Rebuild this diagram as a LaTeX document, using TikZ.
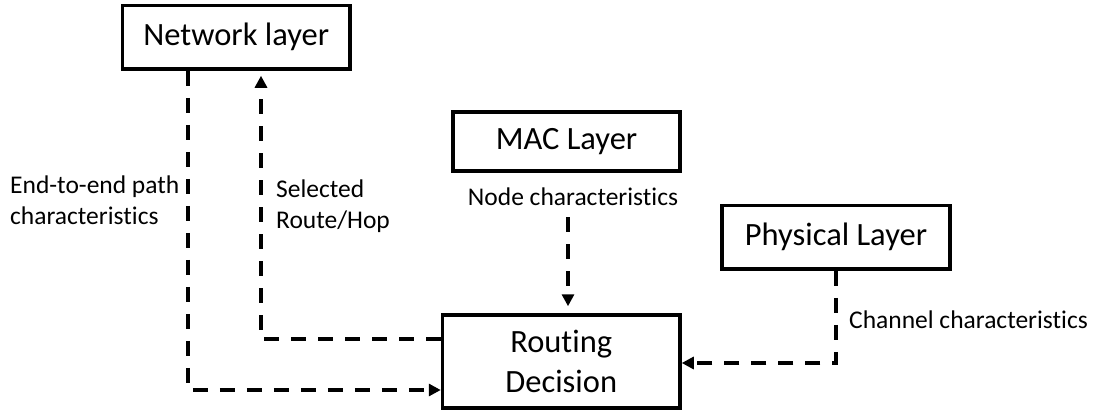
\documentclass[tikz,border=0pt]{standalone}
\usepackage{fontspec}
\setmainfont{Carlito}[Ligatures=NoCommon]
\usetikzlibrary{arrows.meta,calc}
\begin{document}
\begin{tikzpicture}[x=1pt,y=-1pt,
  layerbox/.style={draw,line width=3.5pt,inner sep=0pt,align=center,
    font=\fontsize{32.5}{40}\selectfont},
  flow/.style={line width=4pt,dash pattern=on 15pt off 12pt},
  tip/.style={-{Triangle[length=12pt,width=12pt]}},
  lbl/.style={inner sep=0pt,font=\fontsize{25.5}{31}\selectfont}]
\useasboundingbox (0,0) rectangle (1099,412);

% layer boxes
\node[layerbox,minimum width=227.5pt,minimum height=63.5pt] (net) at (236.25,37.25) {Network layer};
\node[layerbox,minimum width=227pt,minimum height=59pt] (mac) at (566.5,141.5) {MAC Layer};
\node[layerbox,minimum width=228pt,minimum height=63.5pt] (phy) at (836,237.25) {Physical Layer};
\node[layerbox,minimum width=237.5pt,minimum height=93pt] (rt) at (561.25,361.5) {Routing\\Decision};

% bend points of the connectors
\coordinate (c1) at (188,390);
\coordinate (c2) at (261,339);
\coordinate (c3) at (568,217);
\coordinate (c4) at (836,363);

% connectors
\draw[flow,tip] (net.south -| c1) -- (c1) -- (rt.west |- c1);
\draw[flow,tip,shorten >=5pt] (rt.west |- c2) -- (c2) -- (net.south -| c2);
\draw[flow,tip,shorten >=7pt] (c3) -- (rt.north -| c3);
\draw[flow,tip] (phy.south) -- (c4) -- (rt.east |- c4);

% labels
\node[lbl,anchor=west,align=left] (l1) at (10,200) {End-to-end path\\characteristics};
\node[lbl,anchor=west,align=left] (l2) at (276,206) {Selected\\Route/Hop};
\node[lbl] (l3) at (573,197) {Node characteristics};
\node[lbl,anchor=west] (l4) at (849,320) {Channel characteristics};
\end{tikzpicture}
\end{document}
